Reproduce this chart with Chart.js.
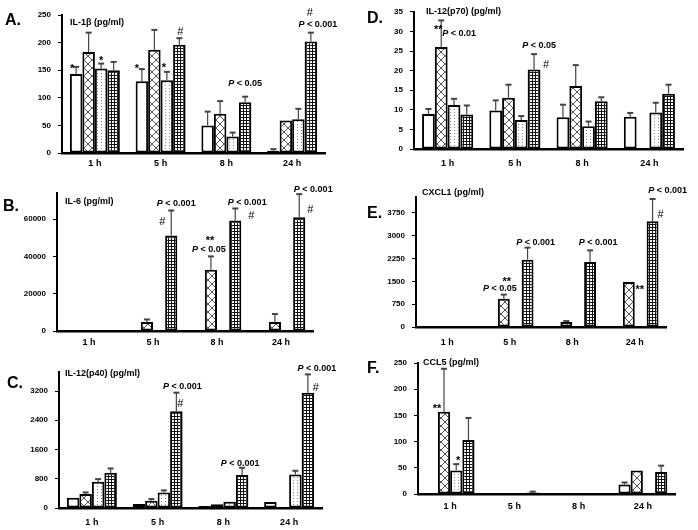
<!DOCTYPE html>
<html>
<head>
<meta charset="utf-8">
<script src="https://cdn.jsdelivr.net/npm/chart.js@4"></script>
<style>
  body { margin: 0; background: #fff; }
  #page { position: relative; width: 698px; height: 530px; overflow: hidden; }
  .panel { position: absolute; }
  .letter { position: absolute; font: bold 16px "Liberation Sans", Arial, sans-serif; line-height: 18px; color: #000; }
</style>
</head>
<body>
<div id="page"></div>
<script>
const hours = ['1 h', '5 h', '8 h', '24 h'];
const groups = ['white', 'cross', 'dots', 'grid'];

// A. IL-1beta  (bar = mean, err = top of error bar)
const il1bMean = [[143, 130, 50, 4], [183, 187, 71, 59], [153, 132, 30, 61], [150, 196, 92, 202]];
const il1bErr = [[156, 152, 75, 7], [218, 223, 94, null], [162, 147, 37, 80], [165, 208, 102, 218]];
const il1bTicks = [0, 50, 100, 150, 200, 250];

// D. IL-12(p70)
const p70Mean = [[8.9, 9.8, 8.1, 8.2], [26, 13.1, 16.1, null], [11.2, 7.4, 5.8, 9.3], [8.8, 20.3, 12.2, 14.1]];
const p70Err = [[10.2, 12.4, 11.3, 9.2], [32.8, 16.4, 21.4, null], [12.8, 8.4, 7, 11.8], [11.1, 24.2, 13.2, 16.4]];
const p70Ticks = [0, 5, 10, 15, 20, 25, 30, 35];

// B. IL-6
const il6Mean = [[null, null, null, null], [null, 4800, 32900, 4800], [null, null, null, null], [null, 51200, 59300, 61000]];
const il6Err = [[null, null, null, null], [null, 6200, 40000, 9100], [null, null, null, null], [null, 64600, 65700, 73400]];
const il6Ticks = [0, 20000, 40000, 60000];

// E. CXCL1
const cxcl1Mean = [[null, null, null, null], [null, 930, 165, 1480], [null, null, null, null], [null, 2215, 2140, 3475]];
const cxcl1Err = [[null, null, null, null], [null, 1065, 195, null], [null, null, null, null], [null, 2610, 2520, 4210]];
const cxcl1Ticks = [0, 750, 1500, 2250, 3000, 3750];

// C. IL-12(p40)
const p40Mean = [[282, 109, 55, 164], [382, 200, 100, null], [718, 427, 173, 918], [964, 2645, 900, 3155]];
const p40Err = [[null, null, null, null], [427, 245, null, null], [791, 482, null, 1018], [1082, 3155, 1100, 3655]];
const p40Ticks = [0, 800, 1600, 2400, 3200];

// F. CCL5
const ccl5Mean = [[null, null, null, 18], [157, 1, null, 45], [45, null, null, 1], [103, 3, null, 42]];
const ccl5Err = [[null, null, null, 22], [239, null, null, null], [57, null, null, null], [145, 4.5, null, 54]];
const ccl5Ticks = [0, 50, 100, 150, 200, 250];

const FONT = '"Liberation Sans", Arial, sans-serif';

function makePattern(kind) {
  const c = document.createElement('canvas');
  const g = c.getContext('2d');
  if (kind === 'white') { c.width = c.height = 4; g.fillStyle = '#fff'; g.fillRect(0, 0, 4, 4); }
  if (kind === 'cross') {
    c.width = c.height = 8;
    g.fillStyle = '#fff'; g.fillRect(0, 0, 8, 8);
    g.strokeStyle = '#555'; g.lineWidth = 1;
    g.beginPath(); g.moveTo(0, 0); g.lineTo(8, 8); g.moveTo(8, 0); g.lineTo(0, 8); g.stroke();
  }
  if (kind === 'dots') {
    c.width = 4; c.height = 3;
    g.fillStyle = '#fff'; g.fillRect(0, 0, 4, 3);
    g.fillStyle = '#888'; g.fillRect(1, 1, 1, 1);
  }
  if (kind === 'grid') {
    c.width = c.height = 3;
    g.fillStyle = '#fff'; g.fillRect(0, 0, 3, 3);
    g.fillStyle = '#111'; g.fillRect(0, 0, 3, 1); g.fillRect(0, 0, 1, 3);
  }
  return g.createPattern(c, 'repeat');
}

const panels = [
  { letter: 'A.', lx: 5, ly: 11, title: 'IL-1\u03b2 (pg/ml)', tdx: 8, tdy: 8,
    left: 0, top: 0, w: 349, h: 175, pad: { left: 22, right: 24, top: 15, bottom: 2 }, xpad: 5,
    max: 250, ticks: il1bTicks, mean: il1bMean, err: il1bErr,
    notes: [
      { ds: 0, cat: 0, t: '*', dx: -4, dy: 0 },
      { ds: 2, cat: 0, t: '*', dx: 0, dy: -5 },
      { ds: 0, cat: 1, t: '*', dx: -5, dy: -3 },
      { ds: 2, cat: 1, t: '*', dx: -3, dy: -6 },
      { ds: 3, cat: 1, t: '#', dx: 1, dy: -7 },
      { ds: 3, cat: 2, t: 'P < 0.05', dx: 0, dy: -14 },
      { ds: 3, cat: 3, t: 'P < 0.001', dx: 7, dy: -9 },
      { ds: 3, cat: 3, t: '#', dx: -1, dy: -21 }
    ] },
  { letter: 'D.', lx: 367, ly: 9, title: 'IL-12(p70) (pg/ml)', tdx: 12, tdy: 0,
    left: 349, top: 0, w: 349, h: 175, pad: { left: 25, right: 15, top: 10, bottom: 6 }, xpad: 9,
    max: 35, ticks: p70Ticks, mean: p70Mean, err: p70Err,
    notes: [
      { ds: 1, cat: 0, t: '**', dx: -3, dy: 7 },
      { ds: 1, cat: 0, t: 'P < 0.01', dx: 18, dy: 13 },
      { ds: 3, cat: 1, t: 'P < 0.05', dx: 5, dy: -9 },
      { ds: 3, cat: 1, t: '#', dx: 12, dy: 10 }
    ] },
  { letter: 'B.', lx: 3, ly: 197, title: 'IL-6 (pg/ml)', tdx: 8, tdy: 9,
    left: 0, top: 168, w: 349, h: 185, pad: { left: 17, right: 36, top: 25, bottom: 2 }, xpad: 6,
    max: 74000, ticks: il6Ticks, mean: il6Mean, err: il6Err,
    notes: [
      { ds: 3, cat: 1, t: 'P < 0.001', dx: 5, dy: -8 },
      { ds: 3, cat: 1, t: '#', dx: -9, dy: 10 },
      { ds: 1, cat: 2, t: '**', dx: -1, dy: -18 },
      { ds: 1, cat: 2, t: 'P < 0.05', dx: -2, dy: -7 },
      { ds: 3, cat: 2, t: 'P < 0.001', dx: 12, dy: -6 },
      { ds: 3, cat: 2, t: '#', dx: 16, dy: 7 },
      { ds: 3, cat: 3, t: 'P < 0.001', dx: 14, dy: -5 },
      { ds: 3, cat: 3, t: '#', dx: 11, dy: 15 }
    ] },
  { letter: 'E.', lx: 367, ly: 204, title: 'CXCL1 (pg/ml)', tdx: 6, tdy: -4,
    left: 349, top: 170, w: 349, h: 180, pad: { left: 27, right: 32, top: 27, bottom: 3 }, xpad: 10,
    max: 4275, ticks: cxcl1Ticks, mean: cxcl1Mean, err: cxcl1Err,
    notes: [
      { ds: 1, cat: 1, t: '**', dx: 3, dy: -15 },
      { ds: 1, cat: 1, t: 'P < 0.05', dx: -4, dy: -7 },
      { ds: 3, cat: 1, t: 'P < 0.001', dx: 8, dy: -6 },
      { ds: 3, cat: 2, t: 'P < 0.001', dx: 8, dy: -8 },
      { ds: 1, cat: 3, t: '**', dx: 11, dy: 6 },
      { ds: 3, cat: 3, t: 'P < 0.001', dx: 15, dy: -9 },
      { ds: 3, cat: 3, t: '#', dx: 8, dy: 15 }
    ] },
  { letter: 'C.', lx: 7, ly: 374, title: 'IL-12(p40) (pg/ml)', tdx: 6, tdy: 2,
    left: 0, top: 350, w: 349, h: 180, pad: { left: 19, right: 27, top: 22, bottom: 2 }, xpad: 9,
    max: 3720, ticks: p40Ticks, mean: p40Mean, err: p40Err,
    notes: [
      { ds: 3, cat: 1, t: 'P < 0.001', dx: 6, dy: -7 },
      { ds: 3, cat: 1, t: '#', dx: 4, dy: 10 },
      { ds: 3, cat: 2, t: 'P < 0.001', dx: -2, dy: -5 },
      { ds: 3, cat: 3, t: 'P < 0.001', dx: 9, dy: -6 },
      { ds: 3, cat: 3, t: '#', dx: 8, dy: 13 }
    ] },
  { letter: 'F.', lx: 367, ly: 359, title: 'CCL5 (pg/ml)', tdx: 5, tdy: 0,
    left: 349, top: 350, w: 349, h: 180, pad: { left: 29, right: 23, top: 13, bottom: 16 }, xpad: 7,
    max: 250, ticks: ccl5Ticks, mean: ccl5Mean, err: ccl5Err,
    notes: [
      { ds: 1, cat: 0, t: '**', dx: -7, dy: 38 },
      { ds: 2, cat: 0, t: '*', dx: 2, dy: -6 }
    ] }
];

// draws text so its visible glyphs are centred on (x, y); leading "P" in italics
function drawNote(ctx, text, x, y) {
  ctx.textBaseline = 'alphabetic';
  ctx.fillStyle = '#000';
  if (text.startsWith('P ')) {
    const f1 = 'italic bold 9px ' + FONT, f2 = 'bold 9px ' + FONT;
    const rest = text.slice(1);
    ctx.font = f1; const w1 = ctx.measureText('P').width;
    ctx.font = f2; const m2 = ctx.measureText(rest);
    const w = w1 + m2.width;
    const yb = y + (m2.actualBoundingBoxAscent - m2.actualBoundingBoxDescent) / 2;
    ctx.textAlign = 'left';
    ctx.font = f1; ctx.fillText('P', x - w / 2, yb);
    ctx.font = f2; ctx.fillText(rest, x - w / 2 + w1, yb);
  } else {
    ctx.font = (text === '#' ? '11px ' : 'bold 11px ') + FONT;
    const m = ctx.measureText(text);
    ctx.textAlign = 'center';
    ctx.fillText(text, x, y + (m.actualBoundingBoxAscent - m.actualBoundingBoxDescent) / 2);
  }
}

const extras = {
  id: 'extras',
  afterDatasetsDraw(chart, args, opts) {
    const ctx = chart.ctx, y = chart.scales.y, area = chart.chartArea;
    const p = opts.panel;
    ctx.save();
    // error bars (upper half only)
    ctx.strokeStyle = '#444';
    chart.data.datasets.forEach((ds, i) => {
      const meta = chart.getDatasetMeta(i);
      ds.errTop.forEach((v, j) => {
        if (v == null || ds.data[j] == null) return;
        const bar = meta.data[j];
        const y1 = y.getPixelForValue(v);
        ctx.lineWidth = 1.2;
        ctx.beginPath(); ctx.moveTo(bar.x, bar.y); ctx.lineTo(bar.x, y1); ctx.stroke();
        ctx.lineWidth = 2;
        ctx.beginPath(); ctx.moveTo(bar.x - 3, y1); ctx.lineTo(bar.x + 3, y1); ctx.stroke();
      });
    });
    // significance marks
    p.notes.forEach(n => {
      const ds = chart.data.datasets[n.ds];
      const bar = chart.getDatasetMeta(n.ds).data[n.cat];
      const e = ds.errTop[n.cat];
      const ay = e != null ? y.getPixelForValue(e) : bar.y;
      drawNote(ctx, n.t, bar.x + n.dx, ay + n.dy);
    });
    // y-axis title inside the plot
    ctx.font = 'bold 9px ' + FONT;
    ctx.fillStyle = '#000';
    ctx.textAlign = 'left';
    ctx.textBaseline = 'middle';
    ctx.fillText(p.title, area.left + p.tdx, area.top + p.tdy);
    ctx.restore();
  }
};

const page = document.getElementById('page');

panels.forEach(p => {
  const box = document.createElement('div');
  box.className = 'panel';
  box.style.left = p.left + 'px';
  box.style.top = p.top + 'px';
  const cv = document.createElement('canvas');
  cv.width = p.w; cv.height = p.h;
  box.appendChild(cv);
  page.appendChild(box);

  const lab = document.createElement('div');
  lab.className = 'letter';
  lab.textContent = p.letter;
  lab.style.left = p.lx + 'px';
  lab.style.top = p.ly + 'px';
  page.appendChild(lab);

  const datasets = groups.map((gname, i) => ({
    label: gname,
    data: p.mean[i],
    errTop: p.err[i],
    backgroundColor: makePattern(gname),
    borderColor: '#000',
    borderWidth: 2,
    borderSkipped: false,
    categoryPercentage: 0.76,
    barPercentage: 1
  }));

  new Chart(cv.getContext('2d'), {
    type: 'bar',
    data: { labels: hours, datasets },
    options: {
      responsive: false,
      animation: false,
      layout: { padding: p.pad },
      plugins: { legend: { display: false }, tooltip: { enabled: false }, extras: { panel: p } },
      scales: {
        x: {
          offset: true,
          grid: { display: false, drawTicks: false },
          border: { display: true, color: '#000', width: 2.5 },
          ticks: { color: '#000', font: { family: FONT, size: 9, weight: 'bold' }, padding: p.xpad, maxRotation: 0 },
          afterFit: s => { s.height = 20; }
        },
        y: {
          min: 0, max: p.max,
          grid: { drawOnChartArea: false, drawTicks: true, tickLength: 4, color: '#000', lineWidth: 1 },
          border: { display: true, color: '#000', width: 2 },
          ticks: {
            autoSkip: false, color: '#000', padding: 7,
            font: { family: FONT, size: 8, weight: 'bold' },
            callback: v => String(v)
          },
          afterBuildTicks: s => { s.ticks = p.ticks.map(v => ({ value: v })); },
          afterFit: s => { s.width = 40; }
        }
      }
    },
    plugins: [extras]
  });
});
</script>
</body>
</html>
